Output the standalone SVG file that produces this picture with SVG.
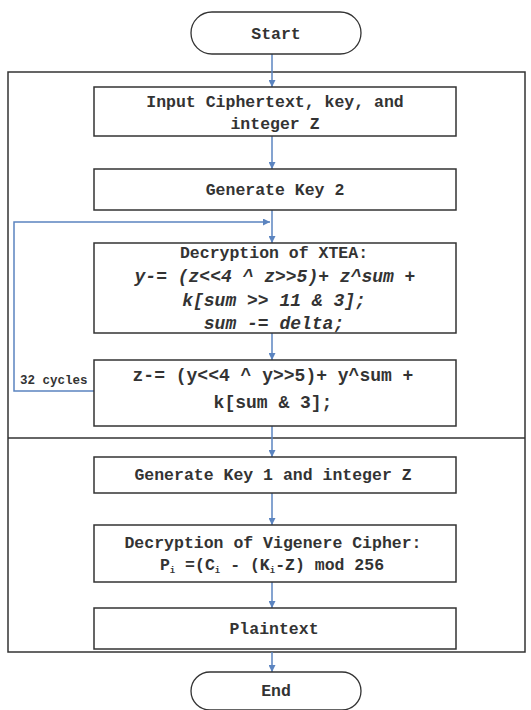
<svg xmlns="http://www.w3.org/2000/svg" width="531" height="710" viewBox="0 0 531 710">
<style>
.box{fill:#fff;stroke:#333;stroke-width:1.5}
.term{fill:#fff;stroke:#333;stroke-width:1.3}
.frame{fill:none;stroke:#333;stroke-width:1.5}
.t{font-family:"Liberation Mono","Courier New",monospace;font-size:16.5px;font-weight:bold;fill:#333;text-anchor:middle}
.f{font-size:18px}
.i{font-style:italic}
.s{font-family:"Liberation Mono","Courier New",monospace;font-size:12.5px;font-weight:bold;fill:#333}
.c{fill:none;stroke:#5b84c0;stroke-width:1.5}
</style>
<defs>
<marker id="ah" viewBox="0 0 10 10" refX="10" refY="5" markerWidth="7" markerHeight="7" markerUnits="userSpaceOnUse" orient="auto">
<path d="M0,0 L10,5 L0,10 z" fill="#5b84c0"/>
</marker>
</defs>
<rect width="531" height="710" fill="#fff"/>
<g id="frame">
<rect class="frame" x="8" y="72" width="517" height="580"/>
<line class="frame" x1="8" y1="438" x2="525" y2="438"/>
</g>
<g id="connectors">
<line class="c" x1="272" y1="54" x2="272" y2="87" marker-end="url(#ah)"/>
<line class="c" x1="272" y1="136" x2="272" y2="169" marker-end="url(#ah)"/>
<line class="c" x1="272" y1="210" x2="272" y2="243" marker-end="url(#ah)"/>
<polyline class="c" points="94,391 14,391 14,222 270,222" marker-end="url(#ah)"/>
<line class="c" x1="272" y1="333" x2="272" y2="360" marker-end="url(#ah)"/>
<line class="c" x1="272" y1="426" x2="272" y2="457" marker-end="url(#ah)"/>
<line class="c" x1="272" y1="493" x2="272" y2="525" marker-end="url(#ah)"/>
<line class="c" x1="272" y1="582" x2="272" y2="608" marker-end="url(#ah)"/>
<line class="c" x1="272" y1="652" x2="272" y2="672" marker-end="url(#ah)"/>
<text class="s" x="20" y="384">32 cycles</text>
</g>
<g id="start">
<rect class="term" x="191" y="12" width="170" height="42" rx="21"/>
<text class="t" x="276" y="39">Start</text>
</g>
<g id="input">
<rect class="box" x="94" y="87" width="362" height="49"/>
<text class="t" x="275" y="107">Input Ciphertext, key, and</text>
<text class="t" x="275" y="129">integer Z</text>
</g>
<g id="key2">
<rect class="box" x="94" y="169" width="362" height="41"/>
<text class="t" x="275" y="195">Generate Key 2</text>
</g>
<g id="xtea">
<rect class="box" x="94" y="243" width="362" height="90"/>
<text class="t" x="274" y="258">Decryption of XTEA:</text>
<text class="t f i" x="275" y="282">y-= (z&lt;&lt;4 ^ z&gt;&gt;5)+ z^sum +</text>
<text class="t f i" x="274" y="306">k[sum &gt;&gt; 11 &amp; 3];</text>
<text class="t f i" x="274" y="329">sum -= delta;</text>
</g>
<g id="zupdate">
<rect class="box" x="94" y="360" width="362" height="66"/>
<text class="t f" x="273" y="381">z-= (y&lt;&lt;4 ^ y&gt;&gt;5)+ y^sum +</text>
<text class="t f" x="273" y="408">k[sum &amp; 3];</text>
</g>
<g id="key1">
<rect class="box" x="94" y="457" width="362" height="36"/>
<text class="t" x="273" y="480">Generate Key 1 and integer Z</text>
</g>
<g id="vigenere">
<rect class="box" x="94" y="525" width="362" height="57"/>
<text class="t" x="273" y="548">Decryption of Vigenere Cipher:</text>
<text class="t" x="272" y="570">P<tspan font-size="9" dy="3">i</tspan><tspan dy="-3"> =(C</tspan><tspan font-size="9" dy="3">i</tspan><tspan dy="-3"> - (K</tspan><tspan font-size="9" dy="3">i</tspan><tspan dy="-3">-Z) mod 256</tspan></text>
</g>
<g id="plaintext">
<rect class="box" x="94" y="608" width="362" height="41"/>
<text class="t" x="274" y="634">Plaintext</text>
</g>
<g id="end">
<rect class="term" x="191" y="672" width="170" height="38" rx="19"/>
<text class="t" x="276" y="696">End</text>
</g>
</svg>
